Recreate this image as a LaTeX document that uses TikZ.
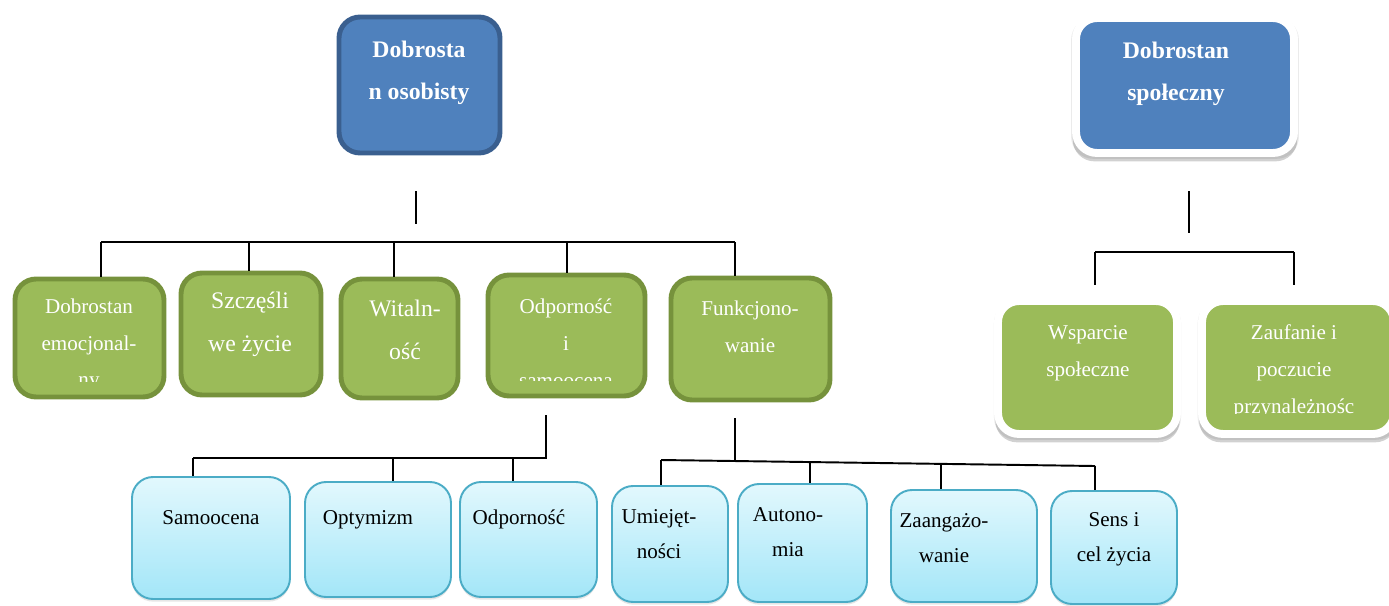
\documentclass[tikz,border=0pt]{standalone}
\usepackage{fontspec}
\setmainfont{Liberation Serif}
\usetikzlibrary{positioning}
\usetikzlibrary{fit}
\usetikzlibrary{shadows}

\definecolor{headblue}{HTML}{4F81BD}
\definecolor{headedge}{HTML}{3A5F8F}
\definecolor{leafgreen}{HTML}{9BBB59}
\definecolor{leafedge}{HTML}{76923C}
\definecolor{skytop}{HTML}{E2F8FD}
\definecolor{skybottom}{HTML}{A3E6F8}
\definecolor{skyedge}{HTML}{4BACC6}

\tikzset{
  box/.style={inner sep=0pt, rounded corners=12pt},
  halo/.style={general shadow={fill=black, opacity=0.08, shadow scale=1.045,
      shadow yshift=-1.5pt},
    general shadow={fill=black, opacity=0.18, shadow scale=1.03,
      shadow yshift=-3.5pt}},
  headbox/.style={box, fill=headblue, draw=headedge, line width=2.8pt},
  socbox/.style={box, halo, fill=headblue, draw=white, line width=4.5pt},
  leafbox/.style={box, fill=leafgreen, draw=leafedge, line width=2.8pt},
  socleaf/.style={box, halo, fill=leafgreen, draw=white, line width=4.5pt},
  skybox/.style={box, top color=skytop, bottom color=skybottom, draw=skyedge,
    line width=1.1pt, drop shadow={opacity=0.2, shadow xshift=0pt, shadow yshift=-1.5pt}},
  headtxt/.style={text=white, align=center, font=\bfseries\fontsize{13.5}{24}\selectfont},
  leaftxt/.style={text=white, align=center, font=\fontsize{12}{21}\selectfont},
  bigtxt/.style={text=white, align=center, font=\fontsize{13.5}{24.5}\selectfont},
  skytxt/.style={align=center, font=\fontsize{12}{20}\selectfont},
  tree/.style={line width=1.1pt}
}

\begin{document}
\begin{tikzpicture}[x=0.02cm, y=-0.02cm]
  \useasboundingbox (0,0) rectangle (1389,605);

  % top level
  \node[headbox, fit={(339,17) (500,153)}] (osob) {};
  \node[headtxt] (osobt) at (419,73) {Dobrosta\\n osobisty};
  \node[socbox, fit={(1076,18) (1294,153)}] (spol) {};
  \node[headtxt] (spolt) at (1176,74) {Dobrostan\\społeczny};

  % personal branch
  \node[leafbox, fit={(15,279) (164,397)}] (emo) {};
  \node[leafbox, fit={(181,273) (321,395)}] (szcz) {};
  \node[leafbox, fit={(341,279) (458,398)}] (wit) {};
  \node[leafbox, fit={(488,275) (645,396)}] (odp) {};
  \node[leafbox, fit={(671,278) (830,400)}] (funk) {};

  \begin{scope}
    \clip (0,260) rectangle (175,381);
    \node[leaftxt] (emot) at (89,345) {Dobrostan\\emocjonal-\\ny};
  \end{scope}
  \node[bigtxt] (szczt) at (250,324) {Szczęśli\\we życie};
  \node[bigtxt] (witt) at (405,330) {Witaln-\\ość};
  \begin{scope}
    \clip (470,260) rectangle (660,380);
    \node[leaftxt] (odpt) at (566,343) {Odporność\\i\\samoocena};
  \end{scope}
  \node[leaftxt] (funkt) at (750,327) {Funkcjono-\\wanie};

  % social branch
  \node[socleaf, fit={(998,301) (1177,434)}] (wsp) {};
  \node[socleaf, fit={(1202,301) (1394,434)}] (zauf) {};
  \node[leaftxt] (wspt) at (1088,353) {Wsparcie\\społeczne};
  \begin{scope}
    \clip (1190,300) rectangle (1389,413);
    \node[leaftxt] (zauft) at (1294,371) {Zaufanie i\\poczucie\\przynależnośc};
  \end{scope}

  % third level
  \node[skybox, fit={(132,477) (290,599)}] (sam) {};
  \node[skybox, fit={(305,482) (451,597)}] (opt) {};
  \node[skybox, fit={(460,482) (597,597)}] (odb) {};
  \node[skybox, fit={(612,486) (728,602)}] (umie) {};
  \node[skybox, fit={(738,484) (867,602)}] (auto) {};
  \node[skybox, fit={(891,490) (1037,602)}] (zaan) {};
  \node[skybox, fit={(1051,491) (1177,604)}] (sens) {};

  \node[skytxt] (samt) at (211,518) {Samoocena};
  \node[skytxt] (optt) at (368,520) {Optymizm};
  \node[skytxt] (odbt) at (519,519) {Odporność};
  \node[skytxt] (umiet) at (659,534) {Umiejęt-\\ności};
  \node[skytxt] (autot) at (788,532) {Autono-\\mia};
  \node[skytxt] (zaant) at (944,538) {Zaangażo-\\wanie};
  \node[skytxt] (senst) at (1114,539) {Sens i\\cel życia};

  % tree lines
  \draw[tree] (416,191) -- (416,224);
  \draw[tree] (101,242) -- (735,242);
  \foreach \x/\n in {101/emo,249/szcz,394/wit,567/odp,735/funk}
    \draw[tree] (\x,242) -- (\x,242 |- \n.north);

  \draw[tree] (1189,191) -- (1189,233);
  \draw[tree] (1095,252) -- (1294,252);
  \foreach \x/\n in {1095/wsp,1294/zauf}
    \draw[tree, shorten >=7pt] (\x,252) -- (\x,252 |- \n.north);

  \draw[tree] (546,415) -- (546,458) -- (193,458);
  \foreach \x/\n in {193/sam,393/opt,513/odb}
    \draw[tree] (\x,458) -- (\x,458 |- \n.north);

  \draw[tree] (735,418) -- (735,461);
  \draw[tree] (661,460) -- (1095,466);
  \foreach \x/\y/\n in {661/460/umie,810/462/auto,941/464/zaan,1095/466/sens}
    \draw[tree] (\x,\y) -- (\x,\y |- \n.north);
\end{tikzpicture}
\end{document}
